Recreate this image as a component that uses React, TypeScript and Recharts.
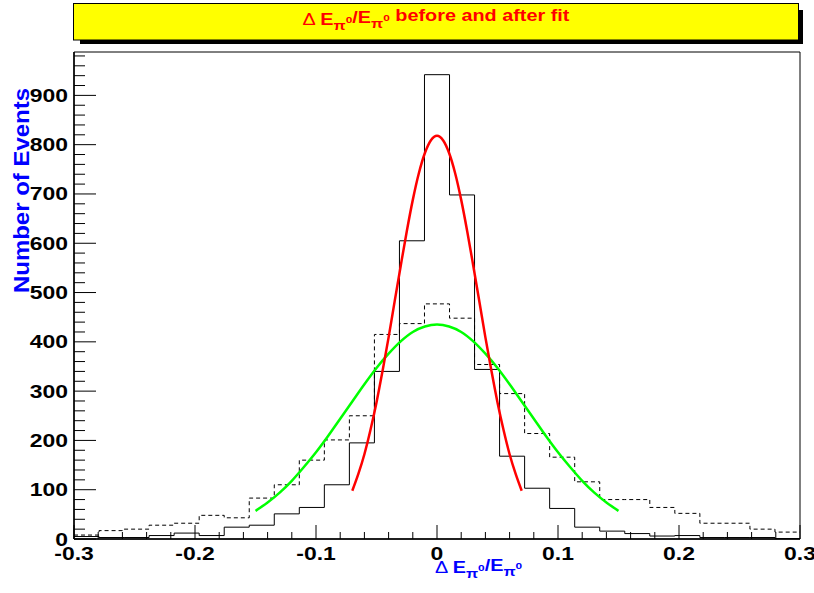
import { ComposedChart, Line, XAxis, YAxis, ReferenceArea } from 'recharts';

// histogram binning (29 equal bins over the axis range)
const X_MIN = -0.3;
const X_MAX = 0.3;
const N_BINS = 29;
const Y_MAX = 988;

// after fit (solid) and before fit (dashed) counts per bin
const afterFitCounts = [5, 3, 3, 7, 12, 7, 24, 28, 51, 64, 110, 195, 340, 605, 942, 698, 344, 168, 103, 62, 24, 16, 11, 6, 7, 3, 3, 3, 1];
const beforeFitCounts = [8, 17, 20, 28, 32, 48, 43, 83, 110, 160, 201, 250, 415, 437, 477, 448, 354, 295, 214, 166, 116, 80, 80, 64, 52, 32, 32, 20, 14];

// gaussian fit curves
const redFitX = [-0.07, -0.065, -0.06, -0.055, -0.05, -0.045, -0.04, -0.035, -0.03, -0.025, -0.02, -0.015, -0.01, -0.005, 0, 0.005, 0.01, 0.015, 0.02, 0.025, 0.03, 0.035, 0.04, 0.045, 0.05, 0.055, 0.06, 0.065, 0.07];
const redFitY = [98, 132, 172, 221, 277, 341, 409, 482, 554, 624, 688, 742, 783, 809, 818, 809, 783, 742, 688, 624, 554, 482, 409, 341, 277, 221, 172, 132, 98];
const greenFitX = [-0.15, -0.14, -0.13, -0.12, -0.11, -0.1, -0.09, -0.08, -0.07, -0.06, -0.05, -0.04, -0.03, -0.02, -0.01, 0, 0.01, 0.02, 0.03, 0.04, 0.05, 0.06, 0.07, 0.08, 0.09, 0.1, 0.11, 0.12, 0.13, 0.14, 0.15];
const greenFitY = [57, 74, 94, 118, 146, 176, 209, 244, 279, 314, 347, 376, 401, 420, 431, 435, 431, 420, 401, 376, 347, 314, 279, 244, 209, 176, 146, 118, 94, 74, 57];

const xTicks: number[] = [];
for (let k = 0; k <= 30; k++) xTicks.push(Math.round((X_MIN + k * 0.02) * 100) / 100);
const yTicks: number[] = [];
for (let v = 0; v < Y_MAX; v += 20) yTicks.push(v);

const W = 814;
const H = 593;
const MARGIN = { top: 52, right: 14, bottom: 24, left: 14 };
const Y_AXIS_W = 60;
const X_AXIS_H = 30;
const PLOT_LEFT = MARGIN.left + Y_AXIS_W;
const PLOT_BOTTOM = H - MARGIN.bottom - X_AXIS_H;
const FONT = '"Liberation Sans", Arial, Helvetica, sans-serif';

function toSteps(counts: number[]) {
  const w = (X_MAX - X_MIN) / N_BINS;
  const pts = counts.map((c, i) => ({ x: X_MIN + i * w, y: c }));
  pts.push({ x: X_MAX, y: counts[counts.length - 1] });
  return pts;
}

const afterData = toSteps(afterFitCounts);
const beforeData = toSteps(beforeFitCounts);
const redData = redFitX.map((x, i) => ({ x, y: redFitY[i] }));
const greenData = greenFitX.map((x, i) => ({ x, y: greenFitY[i] }));

function YTick(props: any) {
  const { y, payload } = props;
  const v = payload.value as number;
  const major = v % 100 === 0;
  return (
    <g>
      <line x1={PLOT_LEFT} x2={PLOT_LEFT + (major ? 22 : 11)} y1={y} y2={y} stroke="#000" strokeWidth={1} />
      {major && (
        <text
          transform={`translate(${PLOT_LEFT - 6},${y + 6.5}) scale(1.24,1)`}
          textAnchor="end"
          fontSize={18.5}
          fontWeight="bold"
          fontFamily={FONT}
          fill="#000"
        >
          {v}
        </text>
      )}
    </g>
  );
}

function XTick(props: any) {
  const { x, payload } = props;
  const v = payload.value as number;
  const major = Math.abs(Math.round(v * 100)) % 10 === 0;
  return (
    <g>
      <line x1={x} x2={x} y1={PLOT_BOTTOM} y2={PLOT_BOTTOM - (major ? 14 : 7)} stroke="#000" strokeWidth={1} />
      {major && (
        <text
          transform={`translate(${x},${PLOT_BOTTOM + 21}) scale(1.24,1)`}
          textAnchor="middle"
          fontSize={18.5}
          fontWeight="bold"
          fontFamily={FONT}
          fill="#000"
        >
          {v === 0 ? '0' : v.toFixed(1)}
        </text>
      )}
    </g>
  );
}

// E with pi0 subscript, dy values sum back to the baseline
function EPi0() {
  return (
    <>
      <tspan>E</tspan>
      <tspan fontSize="0.8em" dy={5}>π</tspan>
      <tspan fontSize="0.6em" dy={-7}>0</tspan>
      <tspan dy={2}></tspan>
    </>
  );
}

export default function App() {
  return (
    <div style={{ position: 'absolute', left: 0, top: 0, width: W, height: H, background: '#fff', fontFamily: FONT }}>
      <ComposedChart width={W} height={H} margin={MARGIN}>
        <XAxis
          dataKey="x"
          type="number"
          domain={[X_MIN, X_MAX]}
          allowDataOverflow
          ticks={xTicks}
          interval={0}
          height={X_AXIS_H}
          tickSize={0}
          tickMargin={6}
          tickLine={false}
          axisLine={{ stroke: '#000', strokeWidth: 1.5 }}
          tick={(p: any) => <XTick {...p} />}
        />
        <YAxis
          dataKey="y"
          type="number"
          domain={[0, Y_MAX]}
          allowDataOverflow
          ticks={yTicks}
          interval={0}
          width={Y_AXIS_W}
          tickSize={0}
          tickMargin={6}
          tickLine={false}
          axisLine={{ stroke: '#000', strokeWidth: 1.5 }}
          tick={(p: any) => <YTick {...p} />}
        />
        <ReferenceArea x1={X_MIN} x2={X_MAX} y1={0} y2={Y_MAX} fill="none" stroke="#000" strokeWidth={1} ifOverflow="visible" />
        <Line data={beforeData} dataKey="y" type="stepAfter" stroke="#000" strokeWidth={1} strokeDasharray="4 3" dot={false} isAnimationActive={false} />
        <Line data={afterData} dataKey="y" type="stepAfter" stroke="#000" strokeWidth={1} dot={false} isAnimationActive={false} />
        <Line data={greenData} dataKey="y" type="monotone" stroke="#00ff00" strokeWidth={2.5} dot={false} isAnimationActive={false} />
        <Line data={redData} dataKey="y" type="monotone" stroke="#ff0000" strokeWidth={2.5} dot={false} isAnimationActive={false} />
      </ComposedChart>

      <svg width={W} height={H} style={{ position: 'absolute', left: 0, top: 0, pointerEvents: 'none' }}>
        {/* title box with shadow */}
        <rect x={80} y={10} width={723} height={34} fill="#000" />
        <rect x={73.5} y={3.5} width={725} height={36.5} fill="#ffff00" stroke="#000" strokeWidth={1} />
        <text
          transform="translate(436,25) scale(1.24,1)"
          textAnchor="middle"
          fontSize={16}
          fontWeight="bold"
          fontFamily={FONT}
          fill="#ff0000"
        >
          <tspan fontWeight="normal">Δ </tspan>
          <EPi0 />
          <tspan>/</tspan>
          <EPi0 />
          <tspan> before and after fit</tspan>
        </text>

        {/* axis titles */}
        <text
          transform="translate(29,190.5) rotate(-90) scale(1.09,1)"
          textAnchor="middle"
          fontSize={22}
          fontWeight="bold"
          fontFamily={FONT}
          fill="#0000ff"
        >
          Number of Events
        </text>
        <text
          transform="translate(435,573) scale(1.24,1)"
          textAnchor="start"
          fontSize={16}
          fontWeight="bold"
          fontFamily={FONT}
          fill="#0000ff"
        >
          <tspan fontWeight="normal">Δ </tspan>
          <EPi0 />
          <tspan>/</tspan>
          <EPi0 />
        </text>
      </svg>
    </div>
  );
}
